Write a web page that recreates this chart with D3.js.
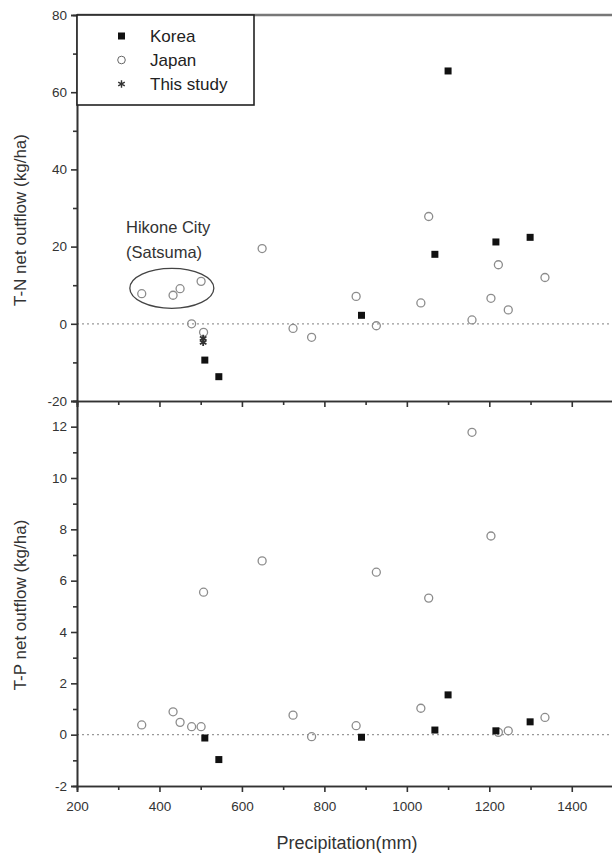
<!DOCTYPE html>
<html>
<head>
<meta charset="utf-8">
<script src="https://cdn.jsdelivr.net/npm/d3@7"></script>
<style>
  body { margin: 0; background: #fff; }
  svg { font-family: "Liberation Sans", Arial, sans-serif; }
  .axis path, .axis line { stroke: #333; stroke-width: 1.6px; }
  .axis text { fill: #333; font-size: 13.5px; }
</style>
</head>
<body>
<svg id="chart" width="612" height="856"></svg>
<script>
// Japan data: precipitation, T-N and T-P net outflow
var japanPrecip = [357, 433, 450, 478, 501, 507, 649, 724, 769, 877, 926, 1034, 1053, 1158, 1204, 1222, 1246, 1335];
var japanTN     = [7.8, 7.4, 9.1, 0.0, 11.0, -2.2, 19.5, -1.2, -3.5, 7.1, -0.5, 5.4, 27.8, 1.0, 6.6, 15.3, 3.6, 12.0];
var japanTP     = [0.38, 0.89, 0.48, 0.31, 0.31, 5.55, 6.77, 0.76, -0.08, 0.35, 6.33, 1.03, 5.32, 11.78, 7.74, 0.09, 0.15, 0.67];

// Korea data
var koreaPrecip = [510, 544, 890, 1068, 1100, 1216, 1299];
var koreaTN     = [-9.4, -13.7, 2.2, 18.0, 65.5, 21.2, 22.4];
var koreaTP     = [-0.13, -0.97, -0.1, 0.18, 1.55, 0.15, 0.5];

// This study
var studyPrecip = [506, 506];
var studyTN     = [-3.8, -4.8];

var xTicks = [200, 400, 600, 800, 1000, 1200, 1400];
var tnTicks = [-20, 0, 20, 40, 60, 80];
var tpTicks = [-2, 0, 2, 4, 6, 8, 10, 12];
var legendItems = ['Korea', 'Japan', 'This study'];

var svg = d3.select('#chart');

var x = d3.scaleLinear().domain([200, 1500]).range([77, 613]);
var yTN = d3.scaleLinear().domain([-20, 80]).range([401, 15]);
var yTP = d3.scaleLinear().domain([-2, 13]).range([786, 401]);

var gray = '#8c8c8c';
var fmt = function(d) { return String(d); };

function minorTicks(major, step) {
    var out = [];
    for (var i = 0; i < major.length - 1; i++) out.push(major[i] + step);
    return out;
}

// zero lines
[[yTN, 0], [yTP, 0]].forEach(function(d) {
    svg.append('line')
        .attr('x1', x(200)).attr('x2', 612)
        .attr('y1', d[0](d[1])).attr('y2', d[0](d[1]))
        .style('stroke', '#999')
        .style('stroke-width', '1.2px')
        .style('stroke-dasharray', '2,3');
});

// top frame line
svg.append('line')
    .attr('x1', x(200)).attr('x2', 612)
    .attr('y1', yTN(80)).attr('y2', yTN(80))
    .style('stroke', '#777')
    .style('stroke-width', '2.5px');

// top panel left axis
svg.append('g').attr('class', 'axis')
    .attr('transform', 'translate(' + x(200) + ',0)')
    .call(d3.axisLeft(yTN).tickValues(tnTicks).tickSize(6).tickPadding(4).tickFormat(fmt));
svg.append('g').attr('class', 'axis')
    .attr('transform', 'translate(' + x(200) + ',0)')
    .call(d3.axisLeft(yTN).tickValues(minorTicks(tnTicks, 10)).tickSize(4).tickFormat(''));

// bottom panel left axis
svg.append('g').attr('class', 'axis')
    .attr('transform', 'translate(' + x(200) + ',0)')
    .call(d3.axisLeft(yTP).tickValues(tpTicks).tickSize(6).tickPadding(4).tickFormat(fmt));
svg.append('g').attr('class', 'axis')
    .attr('transform', 'translate(' + x(200) + ',0)')
    .call(d3.axisLeft(yTP).tickValues(minorTicks(tpTicks, 1)).tickSize(4).tickFormat(''));

// shared middle axis and bottom axis
[yTN(-20), yTP(-2)].forEach(function(yy, k) {
    svg.append('g').attr('class', 'axis')
        .attr('transform', 'translate(0,' + yy + ')')
        .call(d3.axisBottom(x).tickValues(xTicks).tickSize(6).tickPadding(9)
            .tickFormat(k === 1 ? fmt : ''));
    svg.append('g').attr('class', 'axis')
        .attr('transform', 'translate(0,' + yy + ')')
        .call(d3.axisBottom(x).tickValues(minorTicks(xTicks, 100)).tickSize(4).tickFormat(''));
});

// markers
function drawJapan(g, xs, ys, y) {
    g.selectAll(null).data(xs).enter().append('circle')
        .attr('cx', function(d) { return x(d); })
        .attr('cy', function(d, i) { return y(ys[i]); })
        .attr('r', 4)
        .style('fill', 'none')
        .style('stroke', gray)
        .style('stroke-width', '1.3px');
}
function drawKorea(g, xs, ys, y) {
    g.selectAll(null).data(xs).enter().append('rect')
        .attr('x', function(d) { return x(d) - 3.5; })
        .attr('y', function(d, i) { return y(ys[i]) - 3.5; })
        .attr('width', 7).attr('height', 7)
        .style('fill', '#111');
}
var star = d3.symbol().type(d3.symbolAsterisk || d3.symbolCross).size(40);
function drawStudy(g, xs, ys, y) {
    g.selectAll(null).data(xs).enter().append('path')
        .attr('d', star)
        .attr('transform', function(d, i) { return 'translate(' + x(d) + ',' + y(ys[i]) + ')'; })
        .style('fill', 'none')
        .style('stroke', '#333')
        .style('stroke-width', '1.8px');
}

var topPanel = svg.append('g');
drawJapan(topPanel, japanPrecip, japanTN, yTN);
drawStudy(topPanel, studyPrecip, studyTN, yTN);
drawKorea(topPanel, koreaPrecip, koreaTN, yTN);

var bottomPanel = svg.append('g');
drawJapan(bottomPanel, japanPrecip, japanTP, yTP);
drawKorea(bottomPanel, koreaPrecip, koreaTP, yTP);

// Hikone annotation
svg.append('ellipse')
    .attr('cx', x(430)).attr('cy', yTN(9.2))
    .attr('rx', 42).attr('ry', 20)
    .style('fill', 'none')
    .style('stroke', '#444')
    .style('stroke-width', '1.3px');
svg.append('text').attr('x', 126).attr('y', 233)
    .text('Hikone City').style('font-size', '16.5px').style('fill', '#333');
svg.append('text').attr('x', 126).attr('y', 258)
    .text('(Satsuma)').style('font-size', '16.5px').style('fill', '#333');

// legend
var legend = svg.append('g');
legend.append('rect')
    .attr('x', 77).attr('y', 15).attr('width', 177).attr('height', 90)
    .style('fill', '#fff')
    .style('stroke', '#222')
    .style('stroke-width', '1.6px');
legendItems.forEach(function(name, i) {
    var ly = 36 + i * 24;
    if (i === 0) {
        legend.append('rect').attr('x', 118).attr('y', ly - 3.5).attr('width', 7).attr('height', 7).style('fill', '#111');
    } else if (i === 1) {
        legend.append('circle').attr('cx', 121.5).attr('cy', ly).attr('r', 3.8)
            .style('fill', 'none').style('stroke', '#666').style('stroke-width', '1px');
    } else {
        legend.append('path').attr('d', star).attr('transform', 'translate(121.5,' + ly + ')')
            .style('fill', 'none').style('stroke', '#333').style('stroke-width', '1.4px');
    }
    legend.append('text')
        .attr('x', 150).attr('y', ly + 6)
        .text(name)
        .style('font-size', '17px')
        .style('fill', '#222');
});

// axis titles
svg.append('text')
    .attr('transform', 'translate(26,' + 220 + ') rotate(-90)')
    .attr('text-anchor', 'middle')
    .text('T-N net outflow (kg/ha)')
    .style('font-size', '17px').style('fill', '#333');
svg.append('text')
    .attr('transform', 'translate(26,' + 605 + ') rotate(-90)')
    .attr('text-anchor', 'middle')
    .text('T-P net outflow (kg/ha)')
    .style('font-size', '17px').style('fill', '#333');
svg.append('text')
    .attr('x', 347).attr('y', 849)
    .attr('text-anchor', 'middle')
    .text('Precipitation(mm)')
    .style('font-size', '18px').style('fill', '#333');
</script>
</body>
</html>
